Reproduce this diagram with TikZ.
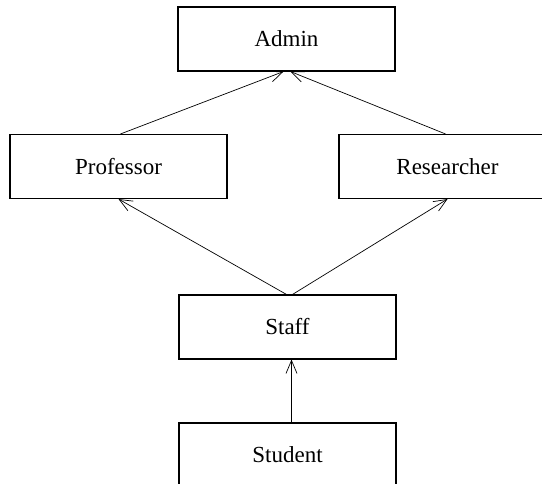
\documentclass[tikz,border=0pt]{standalone}
\usepackage{fontspec}
\setmainfont{Liberation Serif}
\usetikzlibrary{arrows.meta}

\tikzset{
  classbox/.style={draw,line width=1.1pt,minimum width=217pt,minimum height=64pt,inner sep=0pt,font=\fontsize{23}{26}\selectfont},
  isa/.style={-{Straight Barb[length=13pt,width=11pt]},line width=.7pt}
}

\begin{document}
\begin{tikzpicture}[x=1pt,y=-1pt]
\path[use as bounding box] (0,0) rectangle (542,483);
\clip (0,0) rectangle (542,483);
\node[classbox] (admin) at (286.5,39) {Admin};
\node[classbox] (prof) at (118.5,166.5) {Professor};
\node[classbox] (res) at (447.5,166.5) {Researcher};
\node[classbox] (staff) at (287.5,327) {Staff};
\node[classbox] (student) at (287.5,455) {Student};
\draw[isa] ([xshift=2pt]prof.north) -- ([xshift=-3pt]admin.south);
\draw[isa] ([xshift=-2pt]res.north) -- ([xshift=4pt]admin.south);
\draw[isa] ([xshift=-1pt]staff.north) -- (prof.south);
\draw[isa] ([xshift=5pt]staff.north) -- (res.south);
\draw[isa] ([xshift=4pt]student.north) -- ([xshift=4pt]staff.south);
\end{tikzpicture}
\end{document}
